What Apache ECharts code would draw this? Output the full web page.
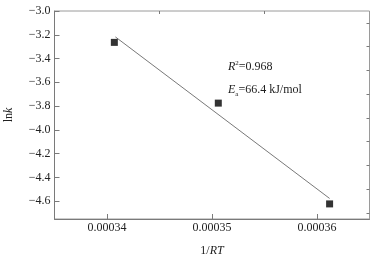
<!DOCTYPE html>
<html>
<head>
<meta charset="utf-8">
<script src="https://cdn.jsdelivr.net/npm/echarts@6/dist/echarts.min.js"></script>
<style>
  html, body { margin: 0; padding: 0; background: #fff; }
  #chart { width: 379px; height: 260px; }
</style>
</head>
<body>
<div id="chart"></div>
<script>
// data
var invRT = [0.0003407, 0.0003506, 0.0003612];
var lnK = [-3.264, -3.775, -4.623];
var fitX = [0.0003408, 0.0003612];
var fitY = [-3.218, -4.577];
var xTicks = [0.00034, 0.00035, 0.00036];
var xMinor = [0.000345, 0.000355];
var yTicks = [-4.6, -4.4, -4.2, -4.0, -3.8, -3.6, -3.4, -3.2, -3.0];
var yMinor = [-4.7, -4.5, -4.3, -4.1, -3.9, -3.7, -3.5, -3.3, -3.1];

var font = '"Liberation Serif", "Times New Roman", serif';
var axisColor = '#7a7a7a';

var chart = echarts.init(document.getElementById('chart'));

function xAxisBase(show) {
  return {
    type: 'value', min: 0.000335, max: 0.000365,
    axisLine: { show: show, lineStyle: { color: axisColor, width: 1 } },
    splitLine: { show: false }
  };
}
function yAxisBase(show) {
  return {
    type: 'value', min: -4.75, max: -3.0,
    axisLine: { show: show, lineStyle: { color: axisColor, width: 1 } },
    splitLine: { show: false }
  };
}

var xMain = xAxisBase(true);
xMain.name = '{n|1/}{i|RT}';
xMain.nameLocation = 'middle';
xMain.nameGap = 26;
xMain.nameTextStyle = {
  rich: {
    n: { fontFamily: font, fontSize: 12, color: '#222' },
    i: { fontFamily: font, fontSize: 12, fontStyle: 'italic', color: '#222' }
  }
};
xMain.axisTick = { inside: true, length: 5, customValues: xTicks, lineStyle: { color: axisColor } };
xMain.axisLabel = {
  customValues: xTicks, margin: 3, fontFamily: font, fontSize: 12, color: '#222',
  formatter: function (v) { return v.toFixed(5); }
};

var xMin = xAxisBase(false);
xMin.axisTick = { inside: true, length: 3, customValues: xMinor, lineStyle: { color: axisColor } };
xMin.axisLabel = { show: false };

var yMain = yAxisBase(true);
yMain.name = '{n|ln}{i|k}';
yMain.nameLocation = 'middle';
yMain.nameGap = 40;
yMain.nameTextStyle = {
  rich: {
    n: { fontFamily: font, fontSize: 12, color: '#222' },
    i: { fontFamily: font, fontSize: 12, fontStyle: 'italic', color: '#222' }
  }
};
yMain.axisTick = { inside: true, length: 5, customValues: yTicks, lineStyle: { color: axisColor } };
yMain.axisLabel = {
  customValues: yTicks, margin: 4, fontFamily: font, fontSize: 12, color: '#222',
  formatter: function (v) { return v.toFixed(1).replace('-', '\u2212'); }
};

var yMin = yAxisBase(false);
yMin.axisTick = { inside: true, length: 3, customValues: yMinor, lineStyle: { color: axisColor } };
yMin.axisLabel = { show: false };

var option = {
  animation: false,
  backgroundColor: '#fff',
  grid: {
    left: 54.5, right: 9.5, top: 11, bottom: 41,
    containLabel: false, outerBoundsMode: 'none',
    show: true, borderColor: '#9a9a9a', borderWidth: 1
  },
  xAxis: [xMain, xMin],
  yAxis: [yMain, yMin],
  graphic: [
    {
      type: 'text', left: 228, top: 60,
      style: {
        text: '{i|R}{s|2}{n|=0.968}',
        rich: {
          i: { fontFamily: font, fontSize: 12, fontStyle: 'italic', fill: '#222' },
          s: { fontFamily: font, fontSize: 7, fill: '#222', verticalAlign: 'top', padding: [0, 0, 6, 0] },
          n: { fontFamily: font, fontSize: 12, fill: '#222' }
        }
      }
    },
    {
      type: 'text', left: 228, top: 84,
      style: {
        text: '{i|E}{s|a}{n|=66.4 kJ/mol}',
        rich: {
          i: { fontFamily: font, fontSize: 12, fontStyle: 'italic', fill: '#222' },
          s: { fontFamily: font, fontSize: 7, fill: '#222', padding: [8, 0, 0, 0] },
          n: { fontFamily: font, fontSize: 12, fill: '#222' }
        }
      }
    }
  ],
  series: [
    {
      type: 'line',
      xAxisIndex: 0, yAxisIndex: 0,
      data: fitX.map(function (x, i) { return [x, fitY[i]]; }),
      showSymbol: false,
      lineStyle: { color: '#555', width: 0.8 },
      z: 1
    },
    {
      type: 'scatter',
      xAxisIndex: 0, yAxisIndex: 0,
      data: invRT.map(function (x, i) { return [x, lnK[i]]; }),
      symbol: 'rect',
      symbolSize: 7,
      itemStyle: { color: '#000' },
      z: 3
    }
  ]
};

chart.setOption(option);
</script>
</body>
</html>
